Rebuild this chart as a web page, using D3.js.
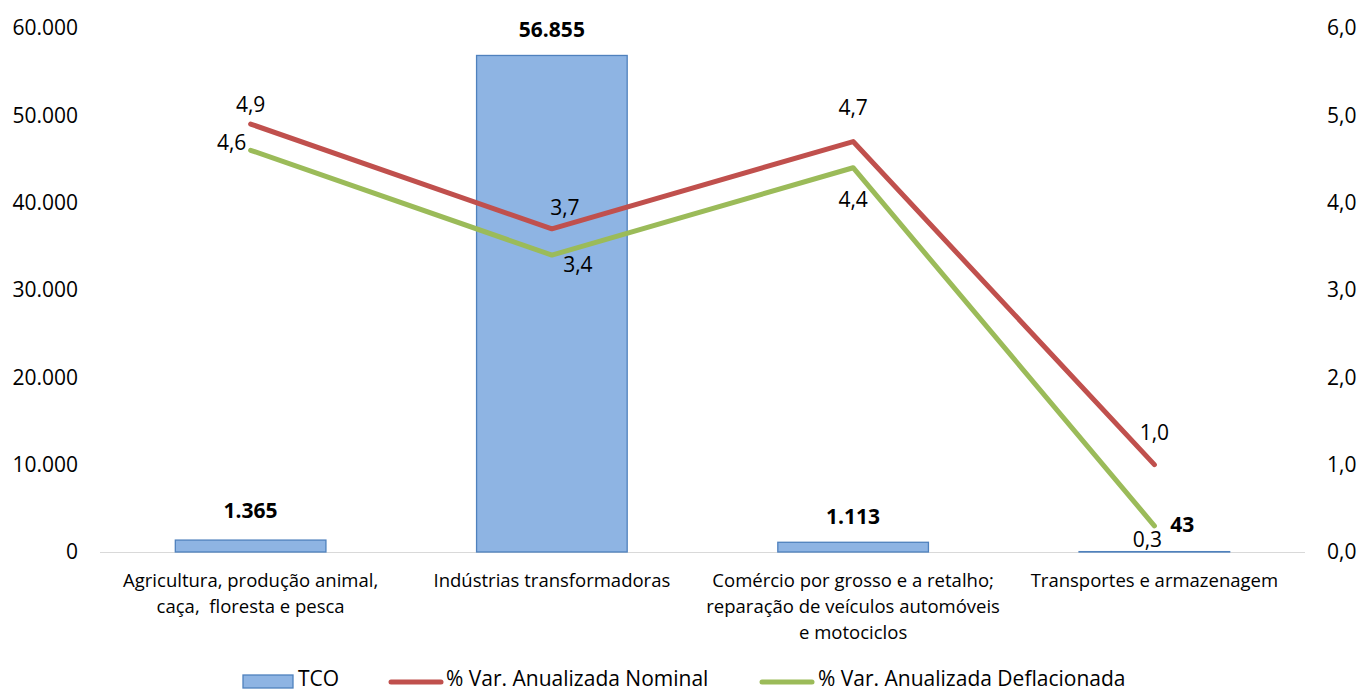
<!DOCTYPE html>
<html>
<head>
<meta charset="utf-8">
<script src="https://cdn.jsdelivr.net/npm/d3@7"></script>
<style>
  body { margin: 0; background: #fff; }
  svg { display: block; font-family: "Open Sans", "Noto Sans", sans-serif; }
  .cat { white-space: pre; }
</style>
</head>
<body>
<svg id="chart" width="1362" height="691"></svg>
<script>
// Sectors on the x axis (each entry is one wrapped label, line by line)
const categories = [
  ["Agricultura, produção animal,", "caça,  floresta e pesca"],
  ["Indústrias transformadoras"],
  ["Comércio por grosso e a retalho;", "reparação de veículos automóveis", "e motociclos"],
  ["Transportes e armazenagem"]
];
const tco = [1365, 56855, 1113, 43];
const varNominal = [4.9, 3.7, 4.7, 1.0];
const varDeflacionada = [4.6, 3.4, 4.4, 0.3];
const leftTicks = [0, 10000, 20000, 30000, 40000, 50000, 60000];
const rightTicks = [0, 1, 2, 3, 4, 5, 6];
const seriesNames = ["TCO", "% Var. Anualizada Nominal", "% Var. Anualizada Deflacionada"];

const svg = d3.select("#chart");
const plotLeft = 100, plotRight = 1305, plotTop = 28, plotBottom = 552;

const x = d3.scaleBand().domain(d3.range(categories.length)).range([plotLeft, plotRight]).paddingInner(0.5).paddingOuter(0.25);
const yL = d3.scaleLinear().domain([0, 60000]).range([plotBottom, plotTop]);
const yR = d3.scaleLinear().domain([0, 6]).range([plotBottom, plotTop]);
const cx = i => x(i) + x.bandwidth() / 2;

const ptLocale = d3.formatLocale({ decimal: ",", thousands: ".", grouping: [3], currency: ["", ""] });
const fInt = ptLocale.format(",d");
const fOne = ptLocale.format(",.1f");

const tickFont = "21px";
const labelFont = "21px";

// baseline
svg.append("line").attr("x1", plotLeft).attr("x2", plotRight).attr("y1", plotBottom + 0.5).attr("y2", plotBottom + 0.5)
  .attr("stroke", "#d9d9d9").attr("stroke-width", 1.2);

// left axis
const axL = svg.append("g").attr("transform", `translate(${plotLeft - 19},0)`)
  .call(d3.axisLeft(yL).tickValues(leftTicks).tickSize(0).tickFormat(fInt));
axL.select(".domain").remove();
axL.selectAll("text").attr("font-size", tickFont).attr("fill", "#000").attr("font-family", "Open Sans, sans-serif");

// right axis
const axR = svg.append("g").attr("transform", `translate(${plotRight + 19},0)`)
  .call(d3.axisRight(yR).tickValues(rightTicks).tickSize(0).tickFormat(fOne));
axR.select(".domain").remove();
axR.selectAll("text").attr("font-size", tickFont).attr("fill", "#000").attr("font-family", "Open Sans, sans-serif");

// category labels
const catG = svg.append("g");
categories.forEach((lines, i) => {
  const t = catG.append("text").attr("class", "cat").attr("x", cx(i)).attr("y", 587).attr("text-anchor", "middle")
    .attr("font-size", "18.5px").attr("fill", "#000");
  lines.forEach((ln, k) => t.append("tspan").attr("x", cx(i)).attr("dy", k === 0 ? 0 : 26).text(ln));
});

// bars
svg.append("g").selectAll("rect").data(tco).join("rect")
  .attr("x", (d, i) => x(i)).attr("width", x.bandwidth())
  .attr("y", d => yL(d)).attr("height", d => plotBottom - yL(d))
  .attr("fill", "#8eb4e3").attr("stroke", "#4f81bd").attr("stroke-width", 1.3);

// bar value labels
const barLabelDx = [0, 0, 0, 28];
const barLabelDy = [-22, -18.5, -18, -19.5];
svg.append("g").selectAll("text").data(tco).join("text")
  .attr("x", (d, i) => cx(i) + barLabelDx[i]).attr("y", (d, i) => yL(d) + barLabelDy[i])
  .attr("text-anchor", "middle").attr("font-size", labelFont).attr("font-weight", "bold").attr("fill", "#000")
  .text(d => fInt(d));

// lines
const line = d3.line().x((d, i) => cx(i)).y(d => yR(d));
svg.append("path").datum(varDeflacionada).attr("d", line).attr("fill", "none")
  .attr("stroke", "#9bbb59").attr("stroke-width", 5).attr("stroke-linecap", "round").attr("stroke-linejoin", "round");
svg.append("path").datum(varNominal).attr("d", line).attr("fill", "none")
  .attr("stroke", "#c0504d").attr("stroke-width", 5).attr("stroke-linecap", "round").attr("stroke-linejoin", "round");

// line value labels (offsets from each point, baseline)
const nomOff = [[0, -12], [13, -14], [0, -26.5], [0, -25]];
const defOff = [[-19, 0], [26, 17], [0, 39], [-7, 21]];
svg.append("g").selectAll("text").data(varNominal).join("text")
  .attr("x", (d, i) => cx(i) + nomOff[i][0]).attr("y", (d, i) => yR(d) + nomOff[i][1])
  .attr("text-anchor", "middle").attr("font-size", labelFont).attr("fill", "#000").text(d => fOne(d));
svg.append("g").selectAll("text").data(varDeflacionada).join("text")
  .attr("x", (d, i) => cx(i) + defOff[i][0]).attr("y", (d, i) => yR(d) + defOff[i][1])
  .attr("text-anchor", "middle").attr("font-size", labelFont).attr("fill", "#000").text(d => fOne(d));

// legend
const lg = svg.append("g").attr("font-size", "21px");
lg.append("rect").attr("x", 243).attr("y", 675).attr("width", 50).attr("height", 13)
  .attr("fill", "#8eb4e3").attr("stroke", "#4f81bd").attr("stroke-width", 1.3);
lg.append("text").attr("x", 298).attr("y", 686).text(seriesNames[0]);
lg.append("line").attr("x1", 391).attr("x2", 441).attr("y1", 682).attr("y2", 682)
  .attr("stroke", "#c0504d").attr("stroke-width", 5).attr("stroke-linecap", "round");
lg.append("text").attr("x", 446).attr("y", 686).text(seriesNames[1]);
lg.append("line").attr("x1", 762).attr("x2", 812).attr("y1", 682).attr("y2", 682)
  .attr("stroke", "#9bbb59").attr("stroke-width", 5).attr("stroke-linecap", "round");
lg.append("text").attr("x", 818).attr("y", 686).text(seriesNames[2]);
</script>
</body>
</html>
